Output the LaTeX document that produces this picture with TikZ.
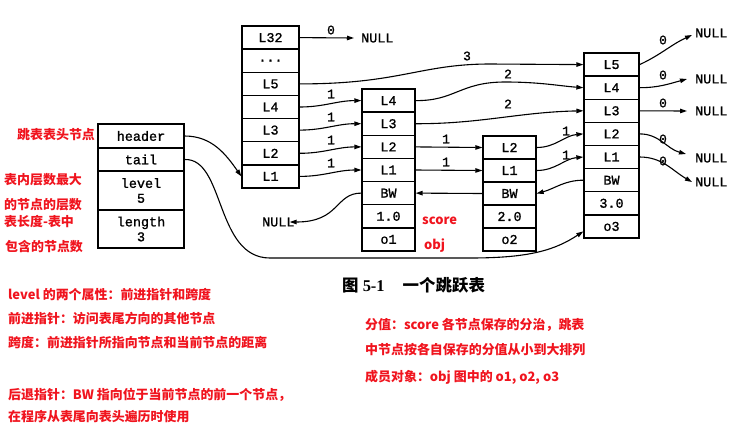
\documentclass[tikz,border=0pt]{standalone}
\usepackage{fontspec}
\setmainfont{Liberation Serif}
\newfontfamily\cjk{Noto Sans CJK SC}
\newfontfamily\mono[FakeBold=1.2]{Liberation Mono}
\usetikzlibrary{arrows.meta}
\definecolor{txtred}{RGB}{240,20,30}
\tikzset{
  cell/.style={draw, line width=1.3bp, inner sep=0pt, font=\mono\fontsize{13.5}{15}\selectfont},
  hcol/.style={cell, minimum width=57bp, minimum height=23.14bp},
  acol/.style={cell, minimum width=53bp, minimum height=23.14bp},
  bcol/.style={cell, minimum width=53bp, minimum height=23bp},
  ccol/.style={cell, minimum width=55bp, minimum height=23.12bp},
  tcol/.style={cell, minimum width=86bp, align=center},
  arr/.style={-{Triangle[length=7bp,width=4.5bp]}, line width=1.1bp},
  lbl/.style={inner sep=0pt, font=\mono\fontsize{13}{13}\selectfont},
  nul/.style={inner sep=0pt, font=\mono\fontsize{13.5}{13.5}\selectfont},
  rtext/.style={inner sep=0pt, anchor=west, text=txtred, font=\cjk\bfseries\fontsize{13}{13}\selectfont},
}
\begin{document}
\begin{tikzpicture}[x=1bp,y=-1bp]
\useasboundingbox (0,0) rectangle (738,431);
% header table
\node[tcol, minimum height=24bp] (thead) at (141,136) {header};
\node[tcol, minimum height=23bp] (ttail) at (141,159.5) {tail};
\node[tcol, minimum height=39bp] (tlevel) at (141,190.5) {level\\5};
\node[tcol, minimum height=38bp] (tlength) at (141,229) {length\\3};
% header column
\node[hcol] (h32) at (270.5,37.6) {L32};
\node[hcol] (hdots) at (270.5,60.7) {...};
\node[hcol] (h5) at (270.5,83.9) {L5};
\node[hcol] (h4) at (270.5,107.0) {L4};
\node[hcol] (h3) at (270.5,130.1) {L3};
\node[hcol] (h2) at (270.5,153.3) {L2};
\node[hcol] (h1) at (270.5,176.4) {L1};
% node 1
\node[acol] (a4) at (388.5,100.6) {L4};
\node[acol] (a3) at (388.5,123.7) {L3};
\node[acol] (a2) at (388.5,146.9) {L2};
\node[acol] (a1) at (388.5,170.0) {L1};
\node[acol] (abw) at (388.5,193.1) {BW};
\node[acol] (asc) at (388.5,216.3) {1.0};
\node[acol] (aob) at (388.5,239.4) {o1};
% node 2
\node[bcol] (b2) at (509.5,147.5) {L2};
\node[bcol] (b1) at (509.5,170.5) {L1};
\node[bcol] (bbw) at (509.5,193.5) {BW};
\node[bcol] (bsc) at (509.5,216.5) {2.0};
\node[bcol] (bob) at (509.5,239.5) {o2};
% node 3
\node[ccol] (c5) at (611.5,64.6) {L5};
\node[ccol] (c4) at (611.5,87.7) {L4};
\node[ccol] (c3) at (611.5,110.8) {L3};
\node[ccol] (c2) at (611.5,133.9) {L2};
\node[ccol] (c1) at (611.5,157.0) {L1};
\node[ccol] (cbw) at (611.5,180.2) {BW};
\node[ccol] (csc) at (611.5,203.3) {3.0};
\node[ccol] (cob) at (611.5,226.4) {o3};
% NULL nodes
\node[nul, anchor=west] (n32) at (361,38) {NULL};
\node[nul, anchor=west] (nbw) at (262,222) {NULL};
\node[nul, anchor=west] (n5) at (695,33) {NULL};
\node[nul, anchor=west] (n4) at (695,79) {NULL};
\node[nul, anchor=west] (n3) at (695,111) {NULL};
\node[nul, anchor=west] (n2) at (695,158) {NULL};
\node[nul, anchor=west] (n1) at (695,182) {NULL};
% forward pointers
\draw[arr] (h32.east) -- ([xshift=-7bp]n32.west);
\draw[arr] (h5.east) .. controls (400,84) and (420,64) .. (490,64) -- (c5.west);
\draw[arr] (h4.east) to[out=0,in=180] (a4.west);
\draw[arr] (h3.east) to[out=0,in=180] (a3.west);
\draw[arr] (h2.east) to[out=0,in=180] (a2.west);
\draw[arr] (h1.east) to[out=0,in=180] (a1.west);
\draw[arr] (a4.east) .. controls (455,101) and (460,82) .. (505,82) .. controls (540,82) and (560,86) .. (c4.west);
\draw[arr] (a3.east) .. controls (480,124) and (520,112) .. (c3.west);
\draw[arr] (a2.east) -- (b2.west);
\draw[arr] (a1.east) -- (b1.west);
\draw[arr] (b2.east) to[out=0,in=185] (c2.west);
\draw[arr] (b1.east) to[out=0,in=185] (c1.west);
\draw[arr] (c5.east) to[out=25,in=205] ([xshift=-3bp,yshift=-2bp]n5.west);
\draw[arr] (c4.east) to[out=0,in=195] ([xshift=-8bp]n4.west);
\draw[arr] (c3.east) -- ([xshift=-8bp]n3.west);
\draw[arr] (c2.east) to[out=0,in=165] ([xshift=-9bp,yshift=4bp]n2.west);
\draw[arr] (c1.east) to[out=0,in=150] ([xshift=-3bp]n1.west);
% backward pointers
\draw[arr] (bbw.west) -- (abw.east);
\draw[arr] (cbw.west) to[out=180,in=15] (bbw.east);
\draw[arr] (abw.west) .. controls (335,193) and (340,222) .. ([xshift=-5bp]nbw.east);
% header / tail pointers
\draw[arr] (thead.east) to[out=0,in=125] (h1.west);
\draw[arr] (ttail.east) .. controls (225,158) and (215,258) .. (270,258) -- (470,258) .. controls (530,258) and (555,250) .. ([yshift=-5bp]cob.west);
% span labels
\node[lbl] (s32) at (331,30) {0};
\node[lbl] (s5) at (467,56) {3};
\node[lbl] (s4) at (331,94) {1};
\node[lbl] (s3) at (331,117) {1};
\node[lbl] (s2) at (331,140) {1};
\node[lbl] (s1) at (331,163) {1};
\node[lbl] (sa4) at (508,74) {2};
\node[lbl] (sa3) at (508,104) {2};
\node[lbl] (sa2) at (446,139) {1};
\node[lbl] (sa1) at (446,162) {1};
\node[lbl] (sb2) at (566,131) {1};
\node[lbl] (sb1) at (566,155) {1};
\node[lbl] (sc5) at (663,40) {0};
\node[lbl] (sc4) at (663,75) {0};
\node[lbl] (sc3) at (663,103) {0};
\node[lbl] (sc2) at (663,139) {0};
\node[lbl] (sc1) at (663,161) {0};
% red annotations
\node[rtext] (r1) at (17,135) {跳表表头节点};
\node[rtext] (r2) at (4,180) {表内层数最大};
\node[rtext] (r3) at (4,205) {的节点的层数};
\node[rtext] (r4) at (4,222) {表长度-表中};
\node[rtext] (r5) at (5,247) {包含的节点数};
\node[rtext] (rscore) at (422,221) {score};
\node[rtext] (robj) at (424,246) {obj};
\node[rtext] (b1t) at (8,295) {level 的两个属性：前进指针和跨度};
\node[rtext] (b2t) at (8,319) {前进指针：访问表尾方向的其他节点};
\node[rtext] (b3t) at (8,343) {跨度：前进指针所指向节点和当前节点的距离};
\node[rtext] (b4t) at (8,395) {后退指针：BW 指向位于当前节点的前一个节点，};
\node[rtext] (b5t) at (8,417) {在程序从表尾向表头遍历时使用};
\node[rtext] (c1t) at (365,325) {分值：score 各节点保存的分治，跳表};
\node[rtext] (c2t) at (365,350) {中节点按各自保存的分值从小到大排列};
\node[rtext] (c3t) at (365,377) {成员对象：obj 图中的 o1, o2, o3};
% caption
\node[inner sep=0pt, anchor=west, font=\fontsize{16.5}{16.5}\selectfont\bfseries] (cap) at (342,285) {{\cjk 图} 5-1\hspace{1.1em}{\cjk 一个跳跃表}};
\end{tikzpicture}
\end{document}
